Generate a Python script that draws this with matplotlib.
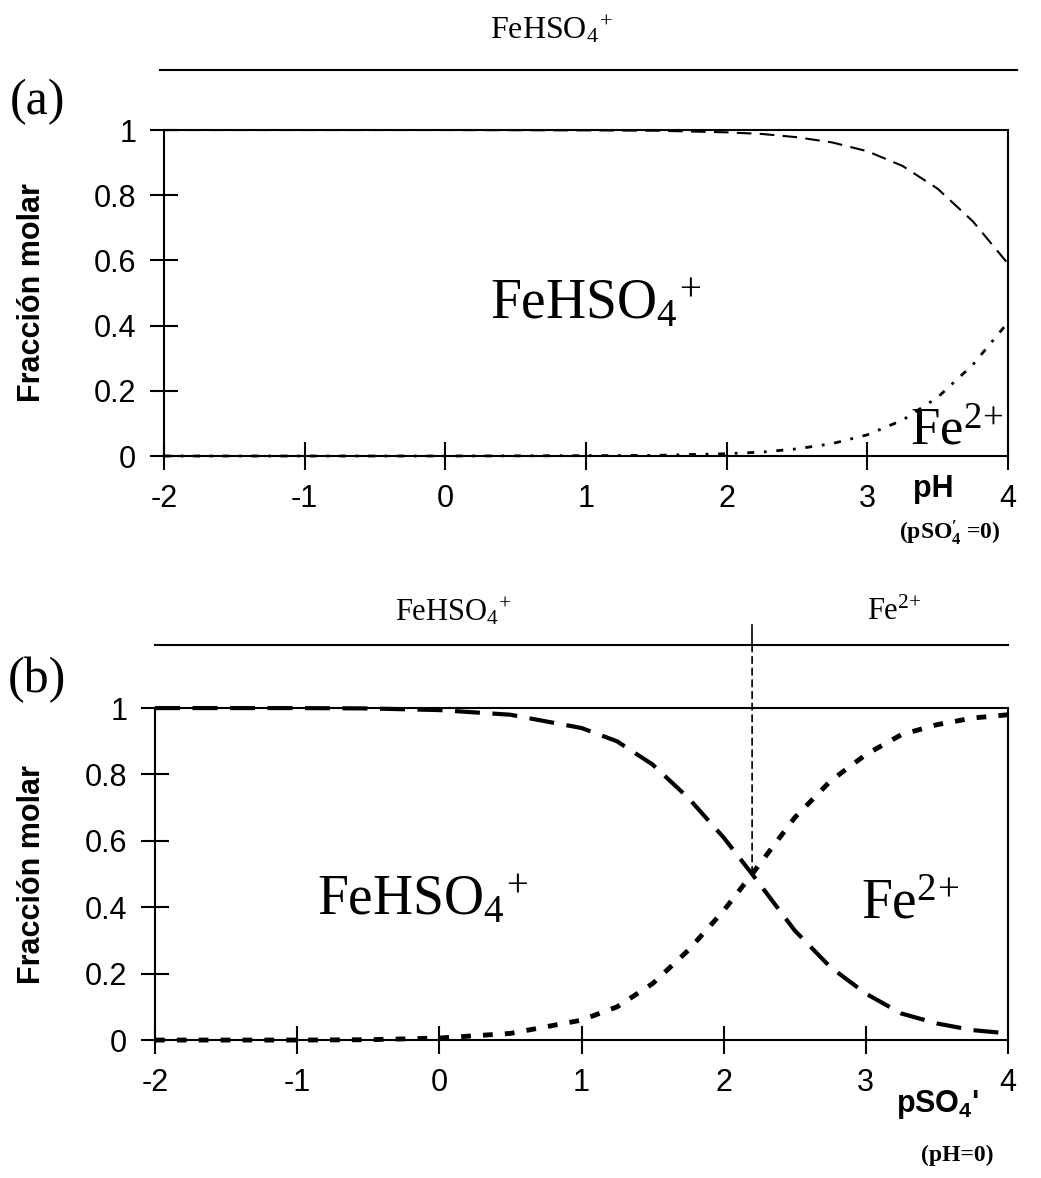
import matplotlib
matplotlib.use('Agg')
import matplotlib.pyplot as plt
from matplotlib.patches import ConnectionPatch

plt.rcParams['font.family'] = ['Liberation Sans', 'DejaVu Sans']
plt.rcParams['axes.unicode_minus'] = False
plt.rcParams['mathtext.fontset'] = 'custom'
plt.rcParams['mathtext.rm'] = 'Liberation Serif'
plt.rcParams['mathtext.it'] = 'Liberation Serif:italic'
plt.rcParams['mathtext.bf'] = 'Liberation Serif:bold'
plt.rcParams['mathtext.sf'] = 'Liberation Sans:bold'

# (a) molar fraction vs pH at pSO4' = 0
ph = [-2, -1, 0, 1, 1.5, 2, 2.25, 2.5, 2.75, 3, 3.25, 3.5, 3.75, 4]
fehso4_a = [1.0, 1.0, 1.0, 0.999, 0.998, 0.993, 0.988, 0.978, 0.962, 0.935, 0.89, 0.82, 0.72, 0.59]
fe_a = [0.0, 0.0, 0.0, 0.001, 0.002, 0.007, 0.012, 0.022, 0.038, 0.065, 0.11, 0.18, 0.28, 0.41]

# (b) molar fraction vs pSO4' at pH = 0
pso4 = [-2, -1.5, -1, -0.5, 0, 0.5, 1, 1.25, 1.5, 1.75, 2, 2.2, 2.5, 2.75, 3, 3.25, 3.5, 3.75, 4]
fehso4_b = [1.0, 1.0, 1.0, 0.999, 0.994, 0.98, 0.94, 0.90, 0.83, 0.73, 0.61, 0.5, 0.33, 0.22, 0.14, 0.08, 0.05, 0.03, 0.02]
fe_b = [0.0, 0.0, 0.0, 0.001, 0.006, 0.02, 0.06, 0.10, 0.17, 0.27, 0.39, 0.5, 0.67, 0.78, 0.86, 0.92, 0.95, 0.97, 0.98]
boundary_b = 2.2

xticks = [-2, -1, 0, 1, 2, 3, 4]
yticks = [0, 0.2, 0.4, 0.6, 0.8, 1]

SP_HSO4 = r'FeHSO$_4$$^{\!+}$'
SP_FE = r'Fe$^{2\!+}$'
SERIF = 'Liberation Serif'

fig = plt.figure(figsize=(10.41, 11.78), dpi=100)
ax_a = fig.add_axes([0.1575, 0.6129, 0.8108, 0.2767])
ax_b = fig.add_axes([0.1489, 0.1171, 0.8194, 0.2818])


def style_axes(ax):
    ax.set_xlim(-2, 4)
    ax.set_ylim(0, 1)
    ax.set_xticks(xticks)
    ax.set_xticklabels([str(t) for t in xticks])
    ax.set_yticks(yticks)
    ax.set_yticklabels(['%g' % t for t in yticks])
    ax.tick_params(direction='inout', length=20, width=1.5, labelsize=22, pad=10)
    for s in ax.spines.values():
        s.set_linewidth(1.5)
    ax.set_ylabel('Fracción molar', fontsize=22, fontweight='bold')


style_axes(ax_a)
style_axes(ax_b)
ax_a.yaxis.set_label_coords(-0.139, 0.5)
ax_b.yaxis.set_label_coords(-0.127, 0.5)

# panel (a) curves
ax_a.plot(ph, fehso4_a, color='black', lw=1.5, dashes=(7, 4), clip_on=False)
ax_a.plot(ph, fe_a, color='black', lw=2, dashes=(2.5, 3.5, 1, 3.5), clip_on=False)
ax_a.text(0.32, 0.42, SP_HSO4, fontsize=40, family=SERIF, ha='left', va='baseline')
ax_a.text(3.97, 0.034, SP_FE, fontsize=38, family=SERIF, ha='right', va='baseline')
ax_a.text(0.912, -0.126, 'pH', transform=ax_a.transAxes, ha='center', va='baseline',
          fontsize=22, fontweight='bold')
ax_a.text(0.931, -0.235, r"(pSO$\mathbf{_4^{\prime}}$ =0)", transform=ax_a.transAxes,
          ha='center', va='center', fontsize=17, fontweight='bold', family=SERIF)

# panel (b) curves
ax_b.plot(pso4, fehso4_b, color='black', lw=3, dashes=(6, 3), clip_on=False)
ax_b.plot(pso4, fe_b, color='black', lw=3.5, dashes=(2, 2.5), clip_on=False)
ax_b.text(-0.86, 0.376, SP_HSO4, fontsize=40, family=SERIF, ha='left', va='baseline')
ax_b.text(2.965, 0.367, SP_FE, fontsize=40, family=SERIF, ha='left', va='baseline')
ax_b.text(0.917, -0.217, r"pSO$\mathsf{_4}$'", transform=ax_b.transAxes, ha='center',
          va='baseline', fontsize=22, fontweight='bold')
ax_b.text(0.941, -0.346, '(pH=0)', transform=ax_b.transAxes, ha='center', va='center',
          fontsize=17, fontweight='bold', family=SERIF)

# predominance bars above the panels
hdr_a = fig.add_axes([160 / 1041, 1 - 70 / 1178, (1017 - 160) / 1041, 0.05])
hdr_a.set_xlim(0, 1)
hdr_a.set_ylim(0, 1)
hdr_a.axis('off')
hdr_a.axhline(0, color='black', lw=1.5, clip_on=False)
hdr_a.text(0.457, 0.53, SP_HSO4, fontsize=23, family=SERIF, ha='center', va='baseline')

hdr_b = fig.add_axes([0.1489, 1 - 645 / 1178, 0.8194, 0.05])
hdr_b.set_xlim(-2, 4)
hdr_b.set_ylim(0, 1)
hdr_b.axis('off')
hdr_b.axhline(0, color='black', lw=1.5, clip_on=False)
hdr_b.axvline(boundary_b, ymin=0, ymax=0.34, color='black', lw=1.2)
hdr_b.text(0.1, 0.42, SP_HSO4, fontsize=22, family=SERIF, ha='center', va='baseline')
hdr_b.text(3.2, 0.42, SP_FE, fontsize=22, family=SERIF, ha='center', va='baseline')
cross = fe_b[pso4.index(boundary_b)]
con = ConnectionPatch(xyA=(boundary_b, 0), coordsA=hdr_b.transData,
                      xyB=(boundary_b, cross), coordsB=ax_b.transData,
                      color='black', lw=1.2, linestyle=(0, (4, 3)))
fig.add_artist(con)

fig.text(10 / 1041, 1 - 102 / 1178, '(a)', fontsize=36, family=SERIF, va='center')
fig.text(8 / 1041, 1 - 680 / 1178, '(b)', fontsize=36, family=SERIF, va='center')

fig.savefig('out.png', dpi=100)
